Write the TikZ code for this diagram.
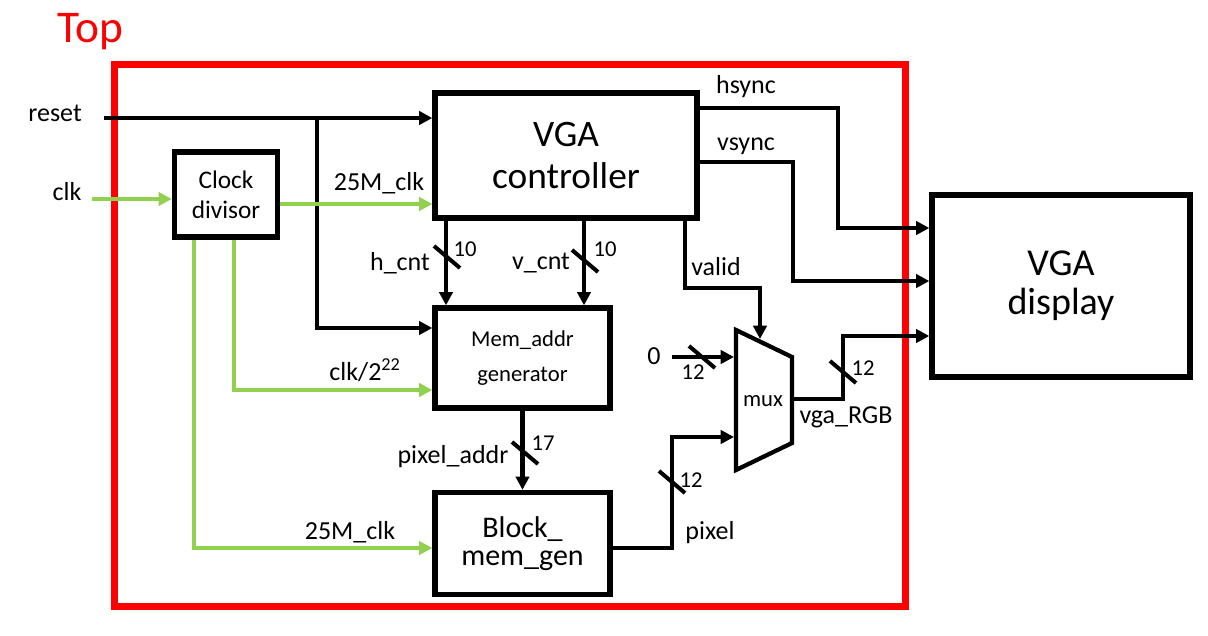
\documentclass[tikz,border=0pt]{standalone}
\usepackage{fontspec}
\setmainfont{Carlito}
\usetikzlibrary{arrows.meta}

\definecolor{frameRed}{RGB}{255,0,0}
\definecolor{clkGreen}{RGB}{146,208,80}

\tikzset{every picture/.style={line width=0.75pt}}
\tikzset{
  blk/.style={draw, line width=4pt, align=center, inner sep=0pt},
  sig/.style={line width=3.2pt, -{Triangle[length=10pt,width=10pt]}},
  gsig/.style={sig, draw=clkGreen},
  lbl/.style={inner sep=0pt, font=\fontsize{19.5}{22}\selectfont},
  bw/.style={inner sep=0pt, font=\fontsize{17}{20}\selectfont},
  busmark/.style={line width=3pt},
}

\begin{document}
\begin{tikzpicture}[x=0.75pt,y=0.75pt,yscale=-1,xscale=1]
\useasboundingbox (0,0) rectangle (1208,636);

%Shape: Rectangle [Top frame]
\draw [draw=frameRed, line width=5.25pt] (114,64) rectangle (905,606);
% Text Node
\node [text=frameRed, inner sep=0pt, font=\fontsize{34}{40}\selectfont] (top) at (90,32) {Top};

%Shape: Blocks
\node [blk, minimum width=196.5pt, minimum height=93.75pt, font=\fontsize{28}{31}\selectfont] (ctrl) at (566,155.5) {VGA\\controller};
\node [blk, minimum width=77.25pt, minimum height=63.75pt, font=\fontsize{19}{22.5}\selectfont] (clkdiv) at (226,194.5) {Clock\\divisor};
\node [blk, minimum width=131.25pt, minimum height=75pt, font=\fontsize{17}{26}\selectfont] (memaddr) at (522.5,358) {Mem\_addr\\generator};
\node [blk, minimum width=131.25pt, minimum height=76.5pt, font=\fontsize{22.5}{21}\selectfont] (blkmem) at (522.5,543.5) {Block\_\\mem\_gen};
\node [blk, minimum width=193.5pt, minimum height=136.5pt, font=\fontsize{28.5}{29}\selectfont] (display) at (1061,286) {VGA\\display};

%Shape: Mux
\draw [line width=3.2pt] (736,330) -- (792,357) -- (792,443) -- (736,470) -- cycle;
\coordinate (muxsel) at (760,339);
\coordinate (muxin0) at (734,357);
\coordinate (muxin1) at (734,437);
\coordinate (muxout) at (792,399);
\node [bw] (mux) at (763,401) {mux};

%Straight Lines [reset]
\node [lbl] (reset) at (55,113) {reset};
\coordinate (rst) at (104,118);
\coordinate (rstjoin) at (317,118);
\draw [sig] (rst) -- (rst -| ctrl.west);
\draw [sig] (rstjoin) |- (memaddr.west |- 0,328);

%Straight Lines [clocks]
\node [lbl] (clk) at (67,192) {clk};
\coordinate (clkin) at (92,199);
\draw [gsig] (clkin) -- (clkin -| clkdiv.west);
\draw [gsig] (clkdiv.east |- 0,204) -- (ctrl.west |- 0,204);
\node [lbl] (clklbla) at (379,183) {25M\_clk};
\draw [gsig] (234,0 |- clkdiv.south) |- (memaddr.west |- 0,390);
\node [lbl] (clklblb) at (365,370) {clk/2\textsuperscript{22}};
\draw [gsig] (194,0 |- clkdiv.south) |- (blkmem.west |- 0,548);
\node [lbl] (clklblc) at (350,532) {25M\_clk};

%Straight Lines [counters]
\draw [sig] (446,0 |- ctrl.south) -- (446,0 |- memaddr.north);
\draw [busmark] (447,257) ++(-13,-11) -- ++(26,22);
\node [lbl] (hcnt) at (400,263) {h\_cnt};
\node [bw] (hcntw) at (465,249) {10};
\draw [sig] (584,0 |- ctrl.south) -- (584,0 |- memaddr.north);
\draw [busmark] (585,261) ++(-13,-11) -- ++(26,22);
\node [lbl] (vcnt) at (541,263) {v\_cnt};
\node [bw] (vcntw) at (605,249) {10};

%Straight Lines [pixel_addr]
\draw [sig] (memaddr.south) -- (blkmem.north);
\draw [busmark] (525,453) ++(-13,-11) -- ++(26,22);
\node [lbl] (paddr) at (453,457) {pixel\_addr};
\node [bw] (paddrw) at (543,443) {17};

%Straight Lines [sync]
\draw [sig] (ctrl.east |- 0,108) -- (838,108) |- (display.west |- 0,228);
\node [lbl] (hsync) at (746,87) {hsync};
\draw [sig] (ctrl.east |- 0,162) -- (793,162) |- (display.west |- 0,281);
\node [lbl] (vsync) at (746,146) {vsync};

%Straight Lines [valid]
\draw [sig] (685,0 |- ctrl.south) |- (760,288) -- (muxsel);
\node [lbl] (valid) at (716,267) {valid};

%Straight Lines [mux inputs]
\node [lbl] (zero) at (654,356) {0};
\coordinate (zin) at (672,357);
\draw [sig] (zin) -- (muxin0);
\draw [busmark] (702,357) ++(-13,-11) -- ++(26,22);
\node [bw] (zerow) at (693,372) {12};
\draw [sig] (blkmem.east |- 0,548) -| (672,437) -- (muxin1);
\draw [busmark] (672,482) ++(-13,-11) -- ++(26,22);
\node [bw] (pixw) at (691,480) {12};
\node [lbl] (pixel) at (710,533) {pixel};

%Straight Lines [vga_RGB]
\draw [sig] (muxout) -- (843,399) |- (display.west |- 0,336);
\draw [busmark] (843,372) ++(-13,-11) -- ++(26,22);
\node [bw] (rgbw) at (863,368) {12};
\node [lbl] (rgb) at (846,417) {vga\_RGB};

\end{tikzpicture}
\end{document}
